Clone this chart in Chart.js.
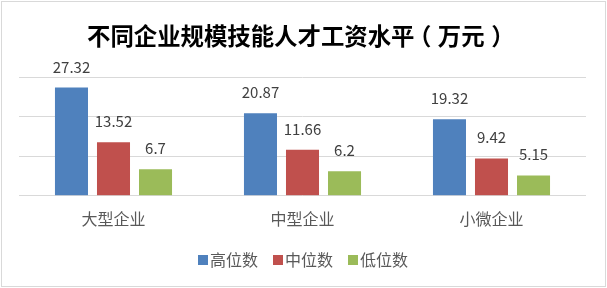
<!DOCTYPE html>
<html>
<head>
<meta charset="utf-8">
<script src="https://cdn.jsdelivr.net/npm/chart.js@4/dist/chart.umd.min.js"></script>
<style>
  html, body { margin: 0; padding: 0; background: #ffffff; }
  #wrap { position: relative; width: 607px; height: 288px; overflow: hidden; }
  #frame { position: absolute; left: 1px; top: 1px; width: 603px; height: 284px; border: 1px solid #d9d9d9; }
  #title { position: absolute; left: 87px; top: 22px; white-space: nowrap;
           font: bold 23.4px "Noto Sans CJK SC", sans-serif; line-height: 26px; color: #000000; }
  /* centre the full-width brackets in their cells */
  #title .open { margin-left: -0.28em; margin-right: 0.28em; }
  #title .close { margin-left: 0.28em; margin-right: -0.28em; }
  canvas { position: absolute; left: 0; top: 0; }
</style>
</head>
<body>
<div id="wrap">
  <div id="frame"></div>
  <canvas id="chart" width="607" height="288"></canvas>
  <div id="title">不同企业规模技能人才工资水平<span class="open">（</span>万元<span class="close">）</span></div>
</div>
<script>
// Wage levels of skilled workers by enterprise size (10k CNY)
const categories = ['大型企业', '中型企业', '小微企业'];
const seriesNames = ['高位数', '中位数', '低位数'];
const seriesColors = ['#4F81BD', '#C0504D', '#9BBB59'];
const highValues = [27.32, 20.87, 19.32];
const midValues = [13.52, 11.66, 9.42];
const lowValues = [6.7, 6.2, 5.15];
const yTicks = [0, 10, 20, 30];

const FONT = '"Noto Sans CJK SC", "Noto Sans", sans-serif';

// Writes each bar's value above it
const valueLabels = {
  id: 'valueLabels',
  afterDatasetsDraw(chart) {
    const ctx = chart.ctx;
    ctx.save();
    ctx.font = '15px ' + FONT;
    ctx.fillStyle = '#404040';
    ctx.textAlign = 'center';
    ctx.textBaseline = 'alphabetic';
    chart.data.datasets.forEach((ds, i) => {
      const meta = chart.getDatasetMeta(i);
      meta.data.forEach((bar, j) => {
        ctx.fillText(String(ds.data[j]), bar.x, bar.y - 15);
      });
    });
    ctx.restore();
  }
};

// Legend swatches: 10px squares sitting close to their text
const legendSwatches = {
  id: 'legendSwatches',
  afterDraw(chart) {
    const legend = chart.legend;
    if (!legend || !legend.legendHitBoxes) return;
    const ctx = chart.ctx;
    ctx.save();
    legend.legendHitBoxes.forEach((hb, i) => {
      ctx.fillStyle = seriesColors[i];
      const cy = hb.top + hb.height / 2;
      ctx.fillRect(Math.round(hb.left) + 1, Math.round(cy - 5), 10, 10);
    });
    ctx.restore();
  }
};

new Chart(document.getElementById('chart'), {
  type: 'bar',
  data: {
    labels: categories,
    datasets: [
      { label: seriesNames[0], data: highValues, backgroundColor: seriesColors[0] },
      { label: seriesNames[1], data: midValues, backgroundColor: seriesColors[1] },
      { label: seriesNames[2], data: lowValues, backgroundColor: seriesColors[2] }
    ]
  },
  options: {
    responsive: false,
    animation: false,
    devicePixelRatio: 1,
    layout: { padding: { top: 77, left: 19, right: 21, bottom: 10 } },
    datasets: { bar: { categoryPercentage: 0.667, barPercentage: 0.786 } },
    scales: {
      x: {
        grid: { display: false },
        border: { display: false },
        ticks: { color: '#595959', font: { family: FONT, size: 16 }, padding: 6 },
        afterFit: (scale) => { scale.height += 3; }
      },
      y: {
        min: yTicks[0],
        max: yTicks[yTicks.length - 1],
        afterBuildTicks: (scale) => { scale.ticks = yTicks.map(v => ({ value: v })); },
        ticks: { display: false },
        grid: { color: '#d9d9d9', lineWidth: 1, drawTicks: false },
        border: { display: false }
      }
    },
    plugins: {
      title: { display: false },
      tooltip: { enabled: false },
      legend: {
        position: 'bottom',
        labels: {
          color: '#595959',
          font: { family: FONT, size: 16 },
          boxWidth: 5,
          boxHeight: 10,
          padding: 14,
          generateLabels: (chart) => chart.data.datasets.map((ds, i) => ({
            text: ds.label,
            fillStyle: 'rgba(0,0,0,0)',
            strokeStyle: 'rgba(0,0,0,0)',
            lineWidth: 0,
            fontColor: '#595959',
            hidden: false,
            datasetIndex: i
          }))
        }
      }
    }
  },
  plugins: [valueLabels, legendSwatches]
});
</script>
</body>
</html>
